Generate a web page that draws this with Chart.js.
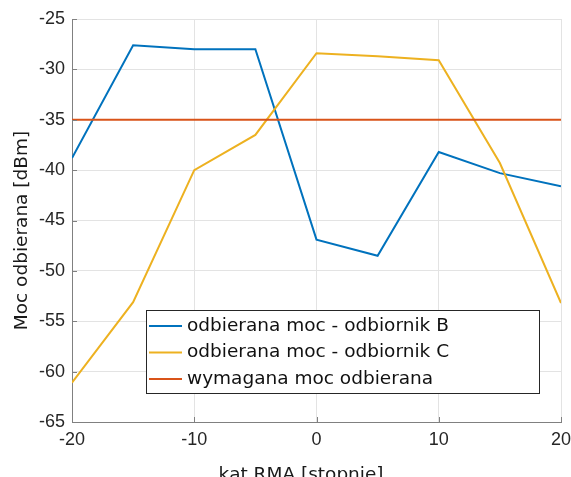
<!DOCTYPE html>
<html>
<head>
<meta charset="utf-8">
<script src="https://cdn.jsdelivr.net/npm/chart.js@4.4.1/dist/chart.umd.min.js"></script>
<style>
  html, body { margin: 0; padding: 0; background: #fff; }
  #wrap { width: 571px; height: 477px; }
</style>
</head>
<body>
<div id="wrap"><canvas id="moc"></canvas></div>
<script>
// kąty RMA [stopnie]
var katy = [-20, -15, -10, -5, 0, 5, 10, 15, 20];
// moc odbierana [dBm]
var mocB = [-38.8, -27.6, -28.0, -28.0, -46.9, -48.5, -38.2, -40.3, -41.6];
var mocC = [-61.1, -53.1, -40.0, -36.5, -28.4, -28.7, -29.1, -39.3, -53.2];
var mocWymagana = [-35, -35, -35, -35, -35, -35, -35, -35, -35];
var etykiety = ["odbierana moc - odbiornik B", "odbierana moc - odbiornik C", "wymagana moc odbierana"];
var kolory = ["#0072BD", "#EDB120", "#D95319"];

function punkty(ys) {
    return katy.map(function (x, i) { return { x: x, y: ys[i] }; });
}

//legenda, opisy osi i kreski podziałki do środka
var opisy = {
    id: 'opisy',
    afterDraw: function (chart) {
        var ctx = chart.ctx;
        var area = chart.chartArea;
        var sx = chart.scales.x, sy = chart.scales.y;
        ctx.save();

        // kreski podziałki
        ctx.strokeStyle = '#808080';
        ctx.lineWidth = 1;
        ctx.beginPath();
        sx.ticks.forEach(function (t) {
            var px = Math.round(sx.getPixelForValue(t.value)) + 0.5;
            ctx.moveTo(px, area.bottom);
            ctx.lineTo(px, area.bottom - 5);
        });
        sy.ticks.forEach(function (t) {
            var py = Math.round(sy.getPixelForValue(t.value)) + 0.5;
            ctx.moveTo(area.left, py);
            ctx.lineTo(area.left + 5, py);
        });
        ctx.stroke();

        ctx.fillStyle = '#1a1a1a';
        ctx.font = '18.5px "DejaVu Sans"';
        ctx.textAlign = 'center';
        ctx.textBaseline = 'middle';
        // oś Y
        ctx.save();
        ctx.translate(22.5, (area.top + area.bottom) / 2 + 10);
        ctx.rotate(-Math.PI / 2);
        ctx.fillText('Moc odbierana [dBm]', 0, 0);
        ctx.restore();
        // oś X
        ctx.fillText('kąt RMA [stopnie]', 301, 475);

        // legenda
        var lx = 146, ly = 310, lw = 393, lh = 83;
        ctx.fillStyle = '#fff';
        ctx.fillRect(lx, ly, lw, lh);
        ctx.strokeStyle = '#262626';
        ctx.lineWidth = 1;
        ctx.strokeRect(lx + 0.5, ly + 0.5, lw, lh);
        ctx.textAlign = 'left';
        chart.data.datasets.forEach(function (ds, i) {
            var y = ly + 16 + i * 26.5;
            ctx.strokeStyle = ds.borderColor;
            ctx.lineWidth = 2;
            ctx.beginPath();
            ctx.moveTo(lx + 3, y);
            ctx.lineTo(lx + 36, y);
            ctx.stroke();
            ctx.fillStyle = '#111';
            ctx.fillText(ds.label, lx + 41, y);
        });
        ctx.restore();
    }
};

var moc_chart = new Chart(document.getElementById('moc'), {
    type: 'line',
    data: {
        datasets: [
            { label: etykiety[0], data: punkty(mocB), borderColor: kolory[0], backgroundColor: kolory[0], borderWidth: 2, pointRadius: 0, order: 2 },
            { label: etykiety[1], data: punkty(mocC), borderColor: kolory[1], backgroundColor: kolory[1], borderWidth: 2, pointRadius: 0, order: 1 },
            { label: etykiety[2], data: punkty(mocWymagana), borderColor: kolory[2], backgroundColor: kolory[2], borderWidth: 2, pointRadius: 0, order: 0 }
        ]
    },
    options: {
        responsive: true,
        maintainAspectRatio: false,
        animation: false,
        layout: { padding: { top: 19, right: 10, left: 0, bottom: 0 } },
        plugins: { legend: { display: false }, tooltip: { enabled: false } },
        scales: {
            x: {
                type: 'linear',
                min: -20, max: 20,
                ticks: { stepSize: 10, color: '#262626', font: { family: '"Liberation Sans", Arial', size: 18 }, padding: 7 },
                grid: { color: '#e3e3e3', drawTicks: false },
                border: { color: '#808080', width: 1 },
                afterFit: function (s) { s.height = 55; s.paddingRight = 0; s.paddingLeft = 0; }
            },
            y: {
                min: -65, max: -25,
                ticks: { stepSize: 5, color: '#262626', font: { family: '"Liberation Sans", Arial', size: 18 }, padding: 7 },
                grid: { color: '#e3e3e3', drawTicks: false },
                border: { color: '#808080', width: 1 },
                afterFit: function (s) { s.width = 72; s.paddingTop = 0; s.paddingBottom = 0; }
            }
        }
    },
    plugins: [opisy]
});
</script>
</body>
</html>
